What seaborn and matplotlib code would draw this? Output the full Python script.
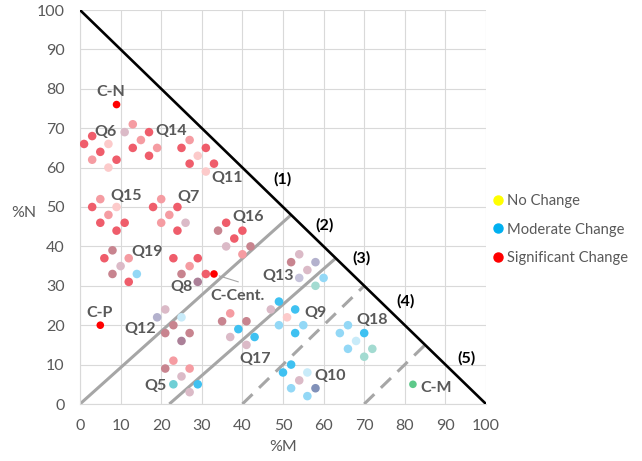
import numpy as np
import pandas as pd
import matplotlib
matplotlib.use('Agg')
import matplotlib.pyplot as plt
from matplotlib.lines import Line2D
import seaborn as sns

# response groups: %M, %N and a shade code for the mix of change levels
resp_m = [3, 1, 7, 5, 3, 9, 7,            # Q6
          13, 11, 17, 15, 13, 19, 17,     # Q14
          27, 25, 31, 29, 27, 33, 31,     # Q11
          5, 3, 9, 7, 5, 11, 9,           # Q15
          20, 18, 24, 22, 20, 26, 24,     # Q7
          36, 34, 40, 38, 36, 42, 40,     # Q16
          8, 6, 12, 10, 8, 14, 12,        # Q19
          23, 29, 27, 25, 31, 29,         # Q8
          21, 19, 25, 23, 21, 27, 25,     # Q12
          23, 21, 27, 25, 23, 29, 27,     # Q5
          37, 35, 41, 39, 37, 43, 41,     # Q17
          49, 47, 53, 51, 49, 55, 53,     # Q9
          54, 52, 58, 56, 54, 60, 58,     # Q13
          66, 64, 70, 68, 66, 72, 70,     # Q18
          52, 50, 56, 54, 52, 58, 56]     # Q10
resp_n = [68, 66, 66, 64, 62, 62, 60,
          71, 69, 69, 67, 65, 65, 63,
          67, 65, 65, 63, 61, 61, 59,
          52, 50, 50, 48, 46, 46, 44,
          52, 50, 50, 48, 46, 46, 44,
          46, 44, 44, 42, 40, 40, 38,
          39, 37, 37, 35, 33, 33, 31,
          37, 37, 35, 33, 33, 31,
          24, 22, 22, 20, 18, 18, 16,
          11, 9, 9, 7, 5, 5, 3,
          23, 21, 21, 19, 17, 17, 15,
          26, 24, 24, 22, 20, 20, 18,
          38, 36, 36, 34, 32, 32, 30,
          20, 18, 18, 16, 14, 14, 12,
          10, 8, 8, 6, 4, 4, 2]
resp_shade = list('RRpRrRp' 'rmRrRrR' 'rRRpRRp' 'rRprRRR' 'rRRrrmR' 'RMRRmMr'
                  'MRrmMbR' 'RRrMRN' 'mLcMMMN' 'rMrmTBm' 'rMMBmBm' 'BmBpbbB'
                  'mMLmlbt' 'bbBcbtt' 'BBcmbSb')

# reference conditions
ref_names = ['C-N', 'C-P', 'C-Cent.', 'C-M']
ref_m = [9, 5, 33, 82]
ref_n = [76, 20, 33, 5]
ref_shade = ['X', 'X', 'X', 'G']

# boundary lines
diag_m = [0, 100]
diag_n = [100, 0]
solid_m = [[0, 52], [22, 63]]
solid_n = [[0, 48], [0, 37]]
dash_m = [[40, 70], [70, 85]]
dash_n = [[0, 30], [0, 15]]
zone_labels = ['(1)', '(2)', '(3)', '(4)', '(5)']
zone_m = [50, 60.2, 69.4, 80.1, 95.1]
zone_n = [56.9, 45.4, 37, 26, 11.6]

q_labels = ['C-N', 'Q6', 'Q14', 'Q11', 'Q15', 'Q7', 'Q16', 'Q19', 'Q13', 'Q8',
            'C-Cent.', 'C-P', 'Q12', 'Q9', 'Q18', 'Q17', 'Q10', 'Q5', 'C-M']
q_m = [7.6, 6.3, 22.5, 36.3, 11.4, 26.8, 41.4, 16.5, 48.8, 25.1,
       38.9, 4.7, 14.8, 58, 72, 43.1, 61.7, 18.7, 87.8]
q_n = [79.3, 69.1, 69.4, 57.3, 52.8, 52.5, 47.4, 38.7, 32.5, 29.6,
       27.4, 23.2, 19, 23.2, 21.3, 11.4, 7.2, 4.6, 4.1]

legend_labels = ['No Change', 'Moderate Change', 'Significant Change']
legend_colors = ['#ffff00', '#00b0f0', '#ff0000']

shade_colors = {
    'R': '#ef5d6b', 'r': '#f59ca2', 'p': '#fccaca', 'M': '#c8848f',
    'N': '#ab8098', 'm': '#dbbac7', 'L': '#b3b1cd', 'l': '#c6c3da',
    'S': '#8191b9', 'B': '#3fc1f1', 'b': '#93d8f6', 'c': '#c8ebf9',
    'T': '#6fcfd5', 't': '#a3dbd1', 'X': '#ff0000', 'G': '#5dc98a',
}

df = pd.DataFrame({'m': resp_m, 'n': resp_n, 'shade': resp_shade})
refs = pd.DataFrame({'m': ref_m, 'n': ref_n, 'shade': ref_shade})

sns.set_style('white')
plt.rcParams['font.family'] = ['Lato', 'DejaVu Sans']

fig = plt.figure(figsize=(6.42, 4.61), dpi=100)
ax = fig.add_axes([80 / 642, 1 - 404 / 461, 406 / 642, 394 / 461])

grey = '#a6a6a6'
for xs, ys in zip(solid_m, solid_n):
    ax.plot(xs, ys, color=grey, lw=2.2, solid_capstyle='butt', zorder=2)
for xs, ys in zip(dash_m, dash_n):
    ax.plot(xs, ys, color=grey, lw=2.2, dashes=(4.6, 3), zorder=2)
ax.plot(diag_m, diag_n, color='black', lw=1.9, zorder=3)

sns.scatterplot(data=df, x='m', y='n', hue='shade', palette=shade_colors,
                s=38, linewidth=0, legend=False, ax=ax, zorder=4)
sns.scatterplot(data=refs, x='m', y='n', hue='shade', palette=shade_colors,
                s=30, linewidth=0, legend=False, ax=ax, zorder=5)

# leader from C-Cent. label to its point
ax.plot([34.3, 39], [32.5, 31], color=grey, lw=0.8, zorder=3)

for t, x, y in zip(q_labels, q_m, q_n):
    ax.text(x, y, t, ha='center', va='center', fontsize=11.5,
            fontweight='bold', color='#595959', zorder=6)
for t, x, y in zip(zone_labels, zone_m, zone_n):
    ax.text(x, y, t, ha='center', va='center', fontsize=11.5,
            fontweight='bold', color='black', zorder=6)

ax.set_xlim(0, 100)
ax.set_ylim(0, 100)
ticks = np.arange(0, 101, 10)
ax.set_xticks(ticks)
ax.set_yticks(ticks)
ax.grid(True, color='#d9d9d9', lw=0.8)
ax.set_axisbelow(True)
for side in ['top', 'right']:
    ax.spines[side].set_visible(False)
for side in ['left', 'bottom']:
    ax.spines[side].set_color('#d9d9d9')
    ax.spines[side].set_linewidth(0.8)
ax.tick_params(length=0, pad=11, labelsize=11.5, colors='#595959')
ax.set_xlabel('')
ax.set_ylabel('')
fig.text(283 / 642, 1 - 447 / 461, '%M', ha='center', va='center',
         fontsize=11.5, color='#595959')
fig.text(24 / 642, 1 - 213 / 461, '%N', ha='center', va='center',
         fontsize=11.5, color='#595959')

handles = [Line2D([], [], marker='o', ls='', color=c, markersize=6.5)
           for c in legend_colors]
fig.legend(handles, legend_labels, loc='center left',
           bbox_to_anchor=(489 / 642, 1 - 229.5 / 461), frameon=False,
           fontsize=10.6, labelcolor='#595959', handletextpad=0.0,
           handlelength=1.2, labelspacing=0.98, borderaxespad=0,
           borderpad=0)

fig.savefig('out.png', dpi=100)
